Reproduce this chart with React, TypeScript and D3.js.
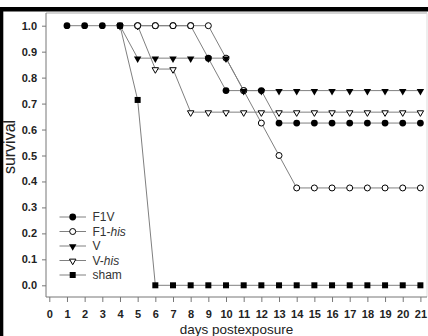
import { useEffect, useRef } from "react";
import * as d3 from "d3";

const xTicks = d3.range(0, 22);
const yTicks = [0, 0.1, 0.2, 0.3, 0.4, 0.5, 0.6, 0.7, 0.8, 0.9, 1.0];

// survival per day
const f1vDays = d3.range(1, 22);
const f1vValues = [1, 1, 1, 1, 1, 1, 1, 1, 0.875, 0.75, 0.75, 0.75, 0.625, 0.625, 0.625, 0.625, 0.625, 0.625, 0.625, 0.625, 0.625];

const f1hisDays = d3.range(5, 22);
const f1hisValues = [1, 1, 1, 1, 1, 0.875, 0.75, 0.625, 0.5, 0.375, 0.375, 0.375, 0.375, 0.375, 0.375, 0.375, 0.375];

const vDays = d3.range(4, 22);
const vValues = [1, 0.875, 0.875, 0.875, 0.875, 0.875, 0.875, 0.75, 0.75, 0.75, 0.75, 0.75, 0.75, 0.75, 0.75, 0.75, 0.75, 0.75];

const vhisDays = d3.range(5, 22);
const vhisValues = [1, 0.833, 0.833, 0.667, 0.667, 0.667, 0.667, 0.667, 0.667, 0.667, 0.667, 0.667, 0.667, 0.667, 0.667, 0.667, 0.667];

const shamDays = d3.range(4, 22);
const shamValues = [1, 0.714, 0, 0, 0, 0, 0, 0, 0, 0, 0, 0, 0, 0, 0, 0, 0, 0];

type Marker = "circle" | "openCircle" | "triangle" | "openTriangle" | "square";

const series: { name: string; italic?: string; days: number[]; values: number[]; marker: Marker }[] = [
    { name: "F1V", days: f1vDays, values: f1vValues, marker: "circle" },
    { name: "F1-", italic: "his", days: f1hisDays, values: f1hisValues, marker: "openCircle" },
    { name: "V", days: vDays, values: vValues, marker: "triangle" },
    { name: "V-", italic: "his", days: vhisDays, values: vhisValues, marker: "openTriangle" },
    { name: "sham", days: shamDays, values: shamValues, marker: "square" },
];

// order in which the markers get stacked on top of each other
const drawOrder = [0, 3, 1, 2, 4];

const FONT = "'Liberation Sans', Arial, sans-serif";

function drawMarker(g: d3.Selection<SVGGElement, unknown, null, undefined>, kind: Marker, x: number, y: number) {
    if (kind === "circle" || kind === "openCircle") {
        g.append("circle")
            .attr("cx", x)
            .attr("cy", y)
            .attr("r", kind === "circle" ? 3.4 : 3)
            .attr("fill", kind === "circle" ? "#000" : "#fff")
            .attr("stroke", "#000")
            .attr("stroke-width", kind === "circle" ? 0 : 1);
    } else if (kind === "triangle" || kind === "openTriangle") {
        g.append("path")
            .attr("d", d3.symbol().type(d3.symbolTriangle).size(kind === "triangle" ? 24 : 18)())
            .attr("transform", `translate(${x},${y + 0.5}) rotate(180)`)
            .attr("fill", kind === "triangle" ? "#000" : "#fff")
            .attr("stroke", "#000")
            .attr("stroke-width", kind === "triangle" ? 0 : 1);
    } else {
        g.append("rect")
            .attr("x", x - 3)
            .attr("y", y - 3)
            .attr("width", 6)
            .attr("height", 6)
            .attr("fill", "#000");
    }
}

function SurvivalChart() {
    const svgRef = useRef<SVGSVGElement>(null);

    useEffect(() => {
        if (!svgRef.current) return;
        d3.select(svgRef.current).selectAll("*").remove();

        const svg = d3.select(svgRef.current);
        const left = 46, right = 427, top = 13, bottom = 297;

        const x = d3.scaleLinear().domain([0, 21]).range([49.3, 420.4]);
        const y = d3.scaleLinear().domain([0, 1]).range([285.3, 25.7]);

        svg.append("rect").attr("width", 428).attr("height", 336).attr("fill", "#fff");

        // black frame remnants from the original figure
        svg.append("rect").attr("x", 0).attr("y", 7).attr("width", 428).attr("height", 4.5).attr("fill", "#000");
        svg.append("rect").attr("x", 0).attr("y", 7).attr("width", 3.3).attr("height", 329).attr("fill", "#000");

        // plot box
        svg.append("line").attr("x1", left).attr("x2", right).attr("y1", top).attr("y2", top).attr("stroke", "#aaa");
        svg.append("line").attr("x1", right).attr("x2", right).attr("y1", top).attr("y2", bottom).attr("stroke", "#ddd");

        // Y axis
        const yAxis = svg
            .append("g")
            .attr("transform", `translate(${left},0)`)
            .call(d3.axisLeft(y).tickValues(yTicks).tickSize(4).tickPadding(5).tickFormat(d3.format(".1f")));
        yAxis.select(".domain").attr("d", `M0,${top}V${bottom}`).attr("stroke", "#777");
        yAxis.selectAll(".tick line").attr("stroke", "#777");
        yAxis.selectAll(".tick text").attr("font-family", FONT).attr("font-size", 11).attr("font-weight", "bold").attr("fill", "#222");

        // X axis
        const xAxis = svg
            .append("g")
            .attr("transform", `translate(0,${bottom})`)
            .call(d3.axisBottom(x).tickValues(xTicks).tickSize(5).tickPadding(8).tickFormat(d3.format("d")));
        xAxis.select(".domain").attr("d", `M${left},0H${right}`).attr("stroke", "#777");
        xAxis.selectAll(".tick line").attr("stroke", "#777");
        xAxis.selectAll(".tick text").attr("font-family", FONT).attr("font-size", 11).attr("font-weight", "bold").attr("fill", "#222");

        // axis titles
        svg.append("text")
            .attr("transform", "translate(15,147) rotate(-90)")
            .attr("text-anchor", "middle")
            .attr("font-family", FONT)
            .attr("font-size", 16)
            .attr("fill", "#222")
            .text("survival");
        svg.append("text")
            .attr("x", 236.5)
            .attr("y", 334)
            .attr("text-anchor", "middle")
            .attr("font-family", FONT)
            .attr("font-size", 13.5)
            .attr("fill", "#222")
            .text("days postexposure");

        // lines
        const line = d3.line<[number, number]>().x((d) => x(d[0])).y((d) => y(d[1]));
        series.forEach((s) => {
            svg.append("path")
                .attr("d", line(s.days.map((d, i) => [d, s.values[i]] as [number, number])))
                .attr("fill", "none")
                .attr("stroke", "#808080")
                .attr("stroke-width", 1);
        });

        // markers
        const marks = svg.append("g");
        drawOrder.forEach((k) => {
            const s = series[k];
            s.days.forEach((d, i) => drawMarker(marks, s.marker, x(d), y(s.values[i])));
        });

        // legend
        const legend = svg.append("g").attr("transform", "translate(59.5,217)");
        series.forEach((s, i) => {
            const row = legend.append("g").attr("transform", `translate(0,${i * 14.5})`);
            row.append("line").attr("x1", 0).attr("x2", 26.5).attr("stroke", "#808080");
            drawMarker(row, s.marker, 13.2, 0);
            const t = row.append("text")
                .attr("x", 33)
                .attr("dy", "0.36em")
                .attr("font-family", FONT)
                .attr("font-size", 12)
                .attr("fill", "#333")
                .text(s.name);
            if (s.italic) t.append("tspan").attr("font-style", "italic").text(s.italic);
        });
    }, []);

    return <svg ref={svgRef} width={428} height={336} style={{ position: "absolute", left: 0, top: 0 }} />;
}

export default function App() {
    return <SurvivalChart />;
}
